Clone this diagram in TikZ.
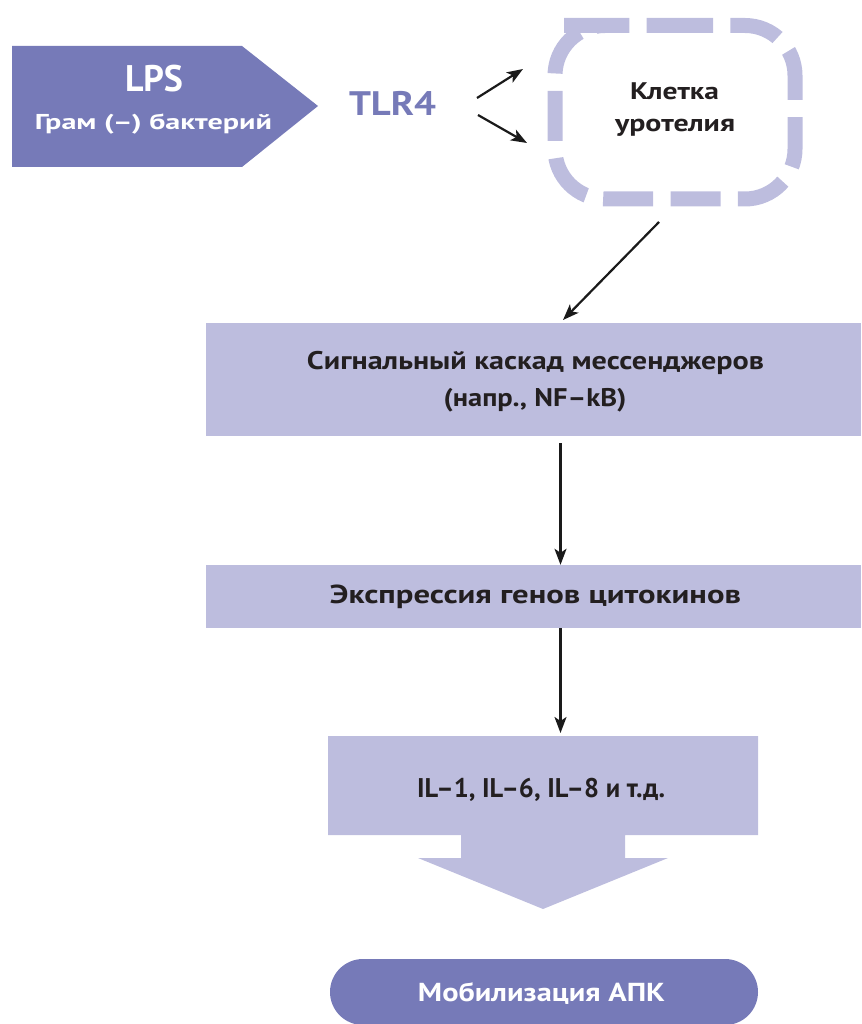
\documentclass[tikz,border=0pt]{standalone}
\usepackage{fontspec}
\setmainfont{PT Sans}
\usetikzlibrary{arrows.meta}
\definecolor{dpur}{HTML}{767AB8}
\definecolor{lpur}{HTML}{BDBDDE}
\definecolor{tdark}{HTML}{231F20}
\definecolor{arrk}{HTML}{1A1A1A}
\newcommand\fw[3]{\resizebox{#1pt}{\height}{\fontsize{#2}{#2}\selectfont\bfseries #3}}
\begin{document}
\begin{tikzpicture}[x=1pt,y=-1pt,
  txt/.style={inner sep=0pt, anchor=base},
  arr/.style={line width=2.2pt, draw=arrk, -{Stealth[length=16pt,width=12pt,inset=4pt]}},
  lightbox/.style={fill=lpur, draw=none, inner sep=0pt},
  darkfill/.style={fill=dpur, draw=none}]
\useasboundingbox (0,0) rectangle (861,1024);

% LPS pentagon
\fill[dpur] (12,46) -- (242,46) -- (318,106) -- (242,167) -- (12,167) -- cycle;
\node[txt, text=white] (lps) at (154,92) {\fw{58}{37}{LPS}};
\node[txt, text=white] (gram) at (153.5,130) {\fw{237}{21.5}{Грам (–) бактерий}};

% TLR4
\node[txt, text=dpur] (tlr) at (392.5,116) {\fw{87}{34}{TLR4}};

% cell outline
\draw[lpur, line width=15pt, dash pattern=on 50pt off 17.4pt, rounded corners=50pt]
  (613,25.5) -- (795,25.5) -- (795,199) -- (555,199) -- (555,25.5) -- cycle;
\coordinate (cell) at (675,112);
\node[txt, text=tdark] (cell1) at (674.5,100) {\fw{89}{24}{Клетка}};
\node[txt, text=tdark] (cell2) at (675,132) {\fw{120}{24}{уротелия}};

% arrows from TLR4
\coordinate (t1s) at (477,98);  \coordinate (t1e) at (523,69);
\coordinate (t2s) at (478,115); \coordinate (t2e) at (527,143);
\draw[arr] (t1s) -- (t1e);
\draw[arr] (t2s) -- (t2e);

% box 1
\node[lightbox, minimum width=655pt, minimum height=113pt] (casc) at (533.5,379.5) {};
\node[txt, text=tdark] (casc1) at (535.5,369) {\fw{457}{25.5}{Сигнальный каскад мессенджеров}};
\node[txt, text=tdark] (casc2) at (535,406) {\fw{183}{25.5}{(напр., NF–kB)}};

% box 2
\node[lightbox, minimum width=655pt, minimum height=63pt] (expr) at (533.5,596.5) {};
\node[txt, text=tdark] (expr1) at (535.5,603) {\fw{411}{26}{Экспрессия генов цитокинов}};

% box 3 with big arrow
\fill[lpur] (328,736) -- (758,736) -- (758,835) -- (625,835) -- (625,858) -- (668,858)
  -- (543,909) -- (418,858) -- (461,858) -- (461,835) -- (328,835) -- cycle;
\coordinate (il) at (543,785.5);
\node[txt, text=tdark] (il1) at (541,797) {\fw{248}{27}{IL–1, IL–6, IL–8 и т.д.}};

% pill
\fill[dpur, rounded corners=33pt] (330,959) rectangle (758,1025);
\coordinate (apc) at (544,992);
\node[txt, text=white] (apc1) at (541.5,1001) {\fw{247}{26}{Мобилизация АПК}};

% connectors
\coordinate (d1s) at (659,222);
\coordinate (d1e) at (563,320);
\draw[arr] (d1s) -- (d1e);
\coordinate (v1s) at (560.5,443);
\draw[arr] (v1s) -- (v1s |- expr.north);
\coordinate (v2s) at (560.5,628);
\coordinate (v2e) at (560.5,733);
\draw[arr] (v2s) -- (v2e);
\end{tikzpicture}
\end{document}
